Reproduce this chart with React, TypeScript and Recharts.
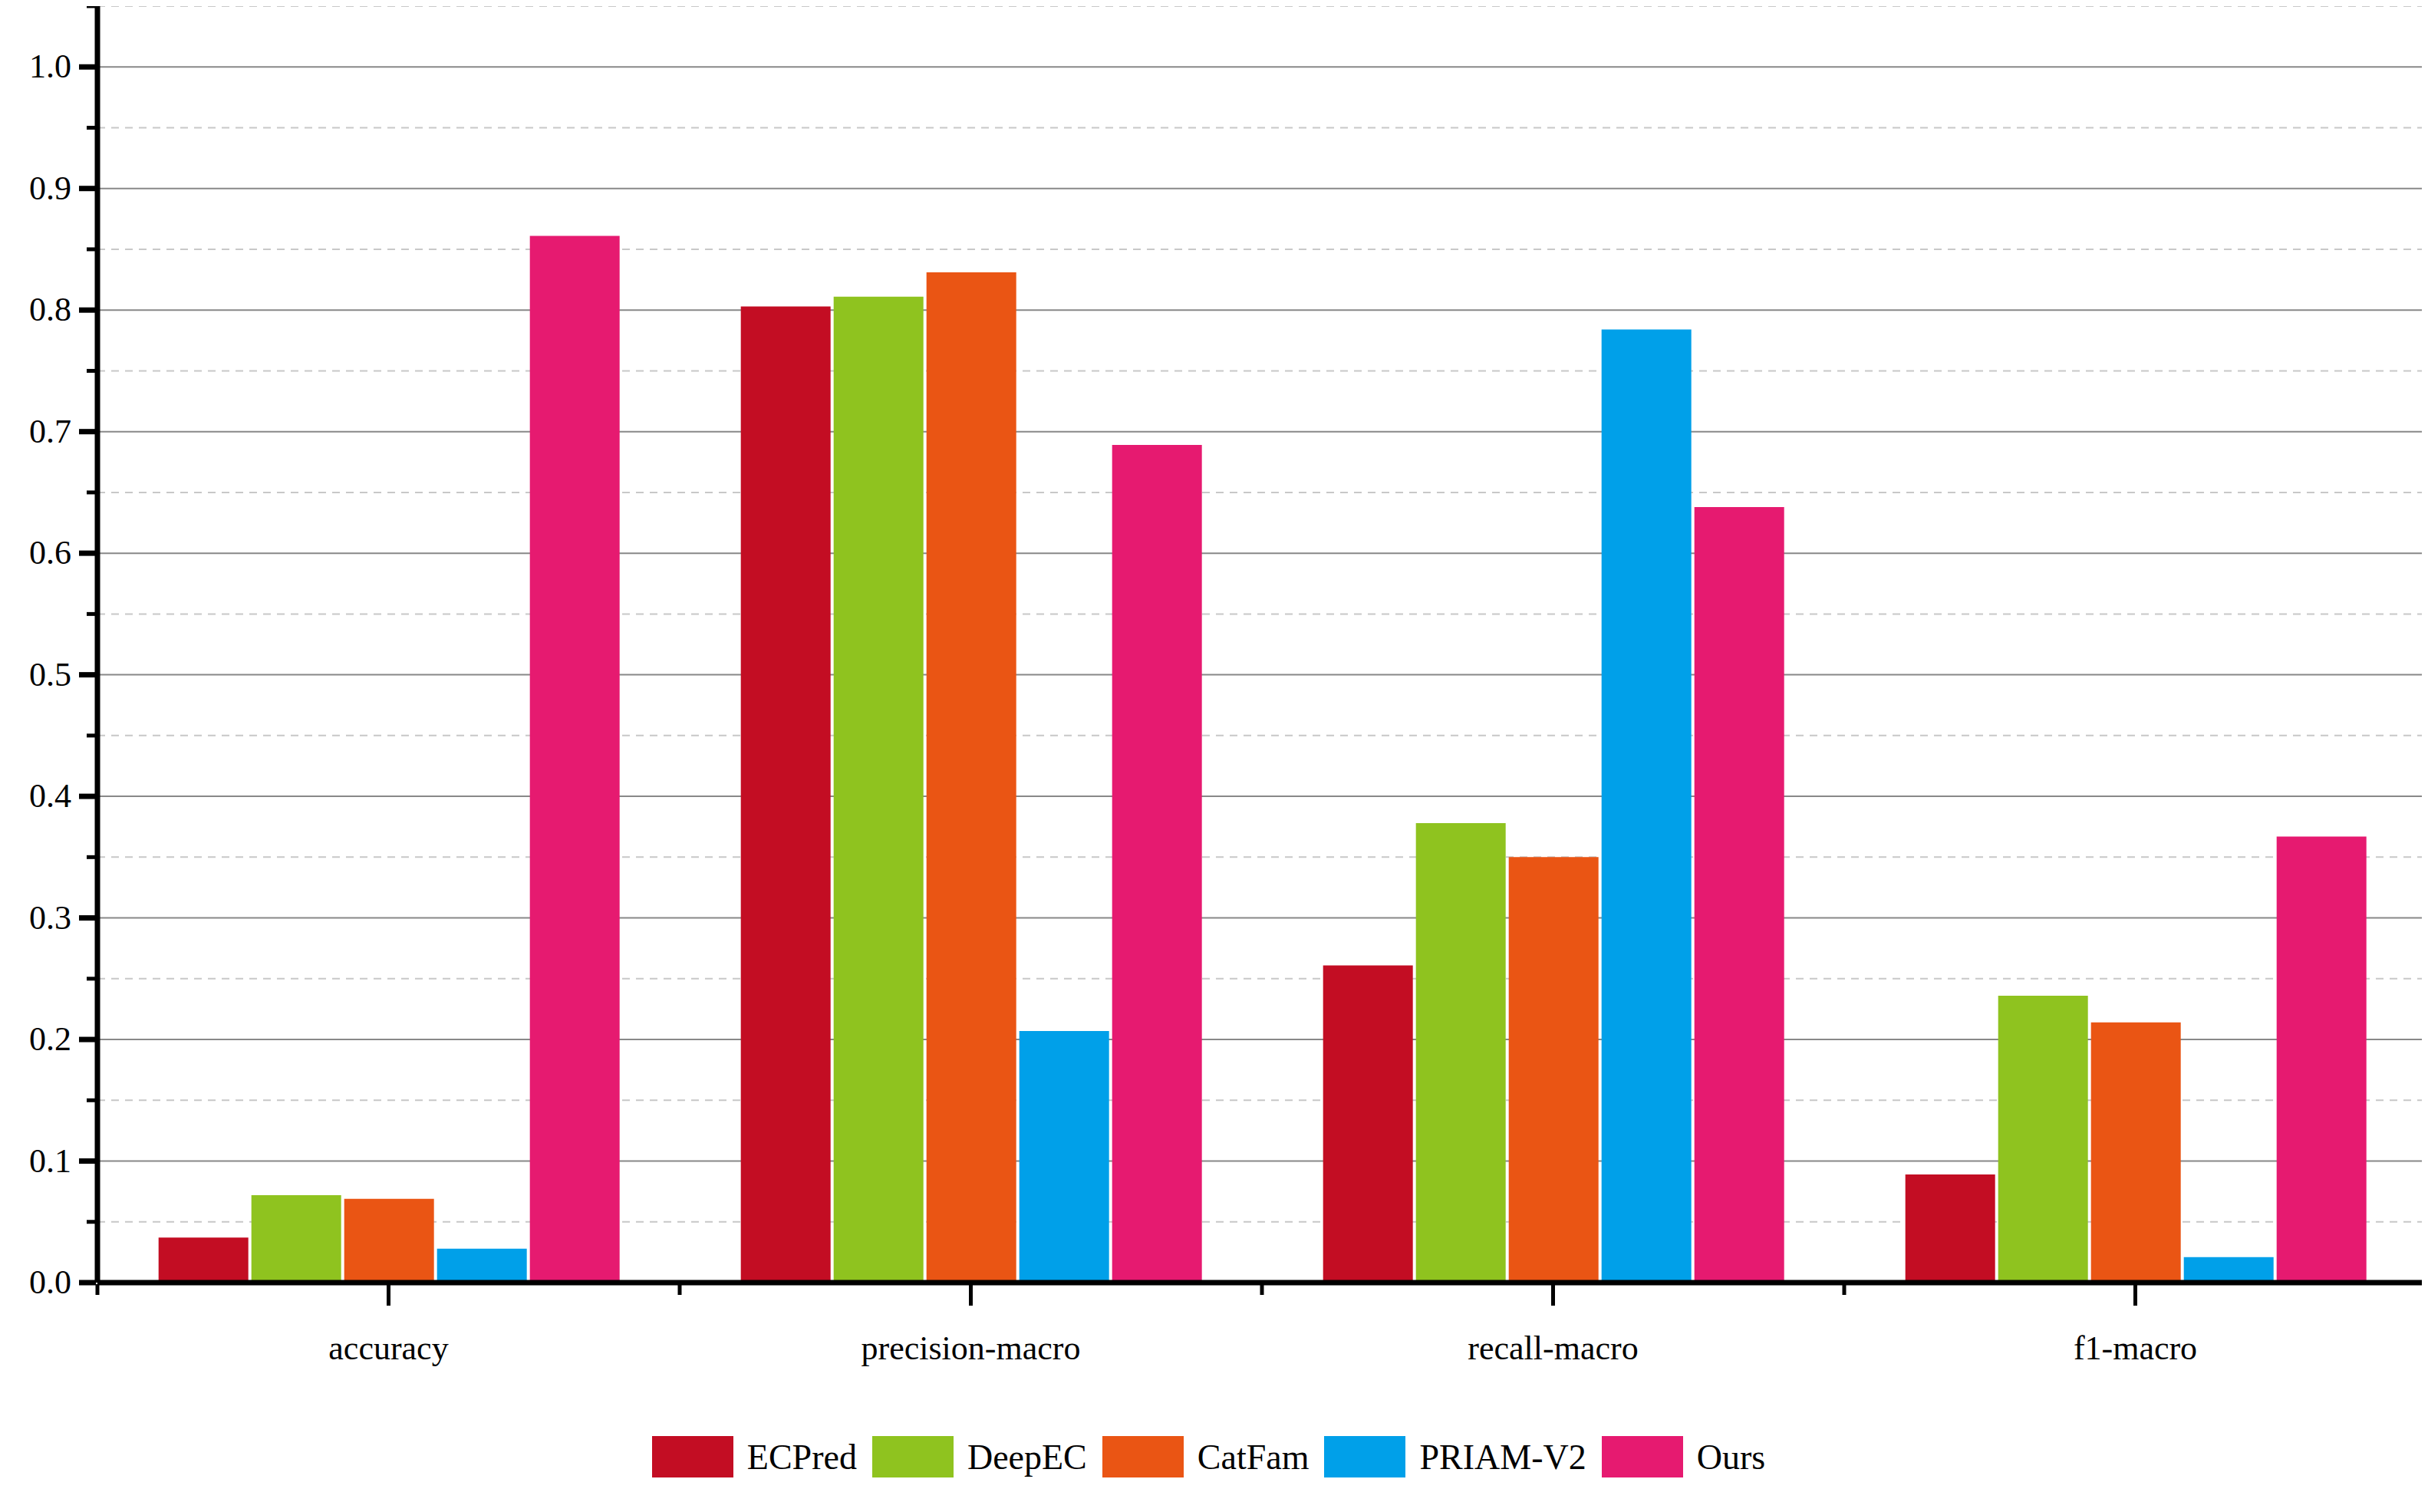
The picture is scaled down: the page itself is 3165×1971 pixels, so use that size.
import { Bar, BarChart, CartesianGrid, Legend, XAxis, YAxis } from "recharts";

const categories = ["accuracy", "precision-macro", "recall-macro", "f1-macro"];
const ecpred = [0.037, 0.803, 0.261, 0.089];
const deepec = [0.072, 0.811, 0.378, 0.236];
const catfam = [0.069, 0.831, 0.35, 0.214];
const priam = [0.028, 0.207, 0.784, 0.021];
const ours = [0.861, 0.689, 0.638, 0.367];
const majorTicks = [0, 0.1, 0.2, 0.3, 0.4, 0.5, 0.6, 0.7, 0.8, 0.9, 1.0];
const minorTicks = [0.05, 0.15, 0.25, 0.35, 0.45, 0.55, 0.65, 0.75, 0.85, 0.95, 1.05];

const series = [
  { key: "ECPred", color: "#C30D23" },
  { key: "DeepEC", color: "#8FC31F" },
  { key: "CatFam", color: "#EA5514" },
  { key: "PRIAM-V2", color: "#00A0E9" },
  { key: "Ours", color: "#E61A70" },
];

const data = categories.map((c, i) => ({
  name: c,
  ECPred: ecpred[i],
  DeepEC: deepec[i],
  CatFam: catfam[i],
  "PRIAM-V2": priam[i],
  Ours: ours[i],
}));

const FONT = "'Liberation Serif', 'Times New Roman', serif";

function YTick(props: any) {
  const { x, y, payload } = props;
  const v = payload.value;
  const major = majorTicks.some((m) => Math.abs(m - v) < 1e-6);
  return (
    <g>
      <line x1={x - (major ? 22 : 12)} x2={x} y1={y} y2={y} stroke="#000" strokeWidth={major ? 7 : 5} />
      {major && (
        <text x={x - 32} y={y} dy={14} textAnchor="end" fontFamily={FONT} fontSize={44} fill="#000">
          {v.toFixed(1)}
        </text>
      )}
    </g>
  );
}

const band = (3157 - 2 - 119) / 4;

function XTick(props: any) {
  const { x, y, payload, index } = props;
  return (
    <g>
      <line x1={x} x2={x} y1={y} y2={y + 28} stroke="#000" strokeWidth={5} />
      <line x1={x - band / 2} x2={x - band / 2} y1={y} y2={y + 14} stroke="#000" strokeWidth={5} />
      {index === categories.length - 1 && (
        <line x1={x + band / 2} x2={x + band / 2} y1={y} y2={y + 14} stroke="#000" strokeWidth={5} />
      )}
      <text x={x} y={y + 98} textAnchor="middle" fontFamily={FONT} fontSize={44} fill="#000">
        {payload.value}
      </text>
    </g>
  );
}

function LegendContent() {
  return (
    <div style={{ display: "flex", justifyContent: "center", alignItems: "center", fontFamily: FONT, fontSize: 46 }}>
      {series.map((s) => (
        <div key={s.key} style={{ display: "flex", alignItems: "center", marginRight: 20 }}>
          <div style={{ width: 106, height: 54, background: s.color, marginRight: 18 }} />
          <span>{s.key}</span>
        </div>
      ))}
    </div>
  );
}

export default function App() {
  return (
    <div style={{ width: 3157, height: 1955, background: "#fff" }}>
      <BarChart
        width={3157}
        height={1955}
        data={data}
        margin={{ top: 0, right: 2, left: 0, bottom: 0 }}
        barCategoryGap="10.5%"
        barGap={4}
      >
        <CartesianGrid vertical={false} horizontalValues={minorTicks} stroke="#c8c8c8" strokeDasharray="10 8" strokeWidth={2} />
        <CartesianGrid vertical={false} horizontalValues={majorTicks.slice(1)} stroke="#888" strokeWidth={2} />
        <XAxis
          dataKey="name"
          height={200}
          axisLine={{ stroke: "#000", strokeWidth: 7 }}
          tickLine={false}
          tickSize={0}
          tick={<XTick />}
          interval={0}
        />
        <YAxis
          width={119}
          domain={[0, 1.05]}
          ticks={[...majorTicks, ...minorTicks].sort((a, b) => a - b)}
          axisLine={{ stroke: "#000", strokeWidth: 7 }}
          tickLine={false}
          tickSize={0}
          tick={<YTick />}
          interval={0}
        />
        <Legend verticalAlign="bottom" height={91} content={<LegendContent />} />
        {series.map((s) => (
          <Bar key={s.key} dataKey={s.key} fill={s.color} isAnimationActive={false} />
        ))}
      </BarChart>
    </div>
  );
}
